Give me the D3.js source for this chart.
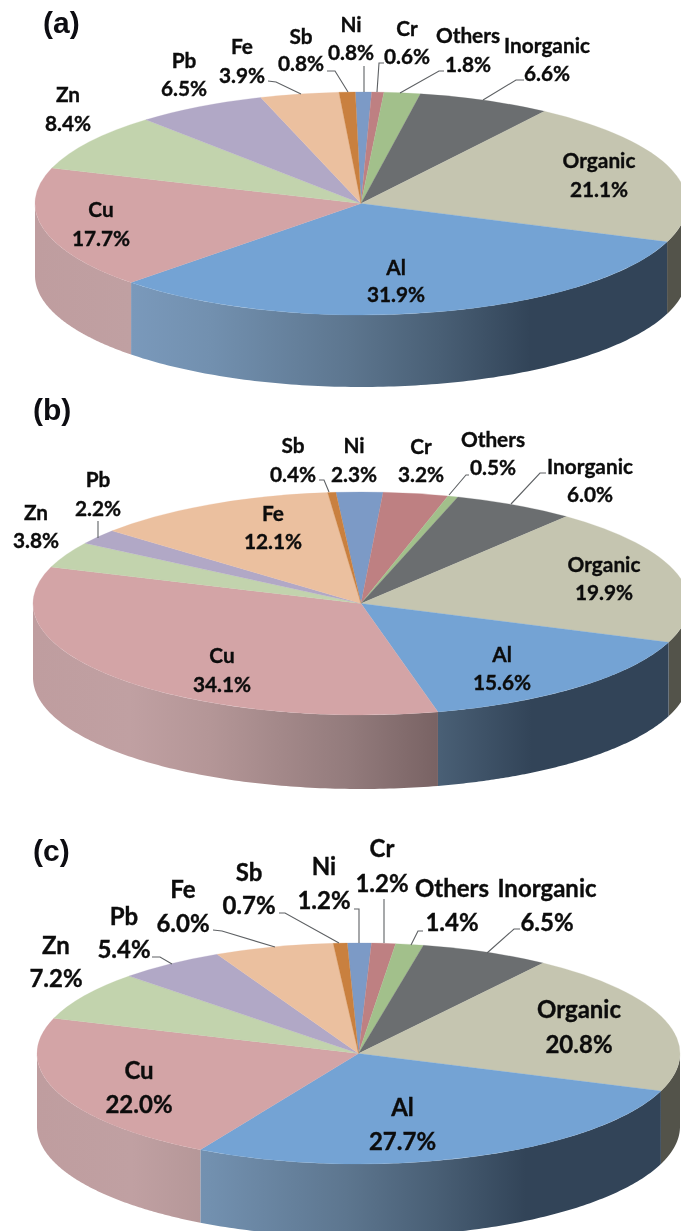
<!DOCTYPE html>
<html>
<head>
<meta charset="utf-8">
<script src="https://cdn.jsdelivr.net/npm/d3@7"></script>
<style>
html,body{margin:0;padding:0;background:#fff;overflow:hidden}
svg{display:block;filter:blur(0.45px)}
</style>
</head>
<body>
<svg id="chart" width="681" height="1231"></svg>
<script>
// ---- data ----
const categories = ["Ni","Cr","Others","Inorganic","Organic","Al","Cu","Zn","Pb","Fe","Sb"];
const valuesA = [0.8,0.6,1.8,6.6,21.1,31.9,17.7,8.4,6.5,3.9,0.8];
const valuesB = [2.3,3.2,0.5,6.0,19.9,15.6,34.1,3.8,2.2,12.1,0.4];
const valuesC = [1.2,1.2,1.4,6.5,20.8,27.7,22.0,7.2,5.4,6.0,0.7];
const colours = ["#7c9ac6","#be8082","#a2c08b","#6b6e70","#c5c5b0","#74a3d4","#d3a4a6","#c2d3ad","#b1a8c6","#ebc09f","#c9803f"];

// ---- layout of each pie ----
const geomA = {cx:361, cy:203.5, rx:326, ry:111.5, depth:72, start:-1};
const geomB = {cx:361, cy:603.5, rx:328, ry:111.5, depth:74, start:-4.4};
const geomC = {cx:358.5, cy:1053.5, rx:321.5, ry:110.5, depth:73, start:-2};

// side shading: fraction of pie width -> brightness factor, saturation factor
const shadeT = [0,.147,.27,.48,.62,.76,1];
const shadeK = [.93,.94,.88,.72,.58,.42,.42];
const shadeS = [.78,.72,.72,.72,.8,.95,.95];

// label placement [x, name baseline, value baseline]
const labelsA = {
  Ni:[351,32,60],Cr:[407,36,64],Others:[468,43,72],Inorganic:[547,53,81],Organic:[599,168,197],
  Al:[396,275,302],Cu:[101,217,246],Zn:[68,102,131],Pb:[184,68,96],Fe:[242,54,83],Sb:[301,44,71]};
const labelsB = {
  Ni:[354,453,482],Cr:[421,454,482],Others:[493,447,475],Inorganic:[590,474,502],Organic:[604,572,600],
  Al:[502,662,690],Cu:[222,663,692],Zn:[36,520,548],Pb:[98,487,516],Fe:[273,521,549],Sb:[293,453,482]};
const labelsC = {
  Ni:[324,875,909],Cr:[382,857,892],Others:[452,897,931],Inorganic:[547,897,931],Organic:[579,1018,1053],
  Al:[402.5,1116,1150],Cu:[139,1079,1113],Zn:[56,954,987],Pb:[124,925,958],Fe:[183,898,932],Sb:[249,881,914]};

const leadersA = [
  [[268,81],[276,82],[301,94]],[[327,71],[335,71],[348,92]],[[364,66],[364,92]],
  [[384,63],[379,63],[377,92]],[[444,71],[439,71],[400,93]],[[524,80],[516,80],[483,100]]];
const leadersB = [
  [[98,521],[98,538]],[[319,480],[324,480],[329,492]],[[469,475],[466,475],[449,495]],
  [[546,473],[540,473],[511,504]]];
const leadersC = [
  [[152,957],[160,957],[172,964]],[[213,930],[222,931],[275,947]],[[279,913],[285,913],[339,943]],
  [[354,909],[359,909],[359,943]],[[384,899],[384,943]],[[423,931],[418,931],[411,945]],
  [[520,929],[514,929],[487,953]]];

const panels = [
  {id:"a",title:"(a)",tx:43,ty:33,values:valuesA,geom:geomA,labels:labelsA,leaders:leadersA,font:20.8},
  {id:"b",title:"(b)",tx:33,ty:420,values:valuesB,geom:geomB,labels:labelsB,leaders:leadersB,font:20.8},
  {id:"c",title:"(c)",tx:33,ty:861,values:valuesC,geom:geomC,labels:labelsC,leaders:leadersC,font:24}
];

const svg = d3.select("#chart");
const defs = svg.append("defs");
const TAU = 2*Math.PI;

panels.forEach(p => {
  const g = p.geom;
  const sx = d3.scaleLinear().domain([-1,1]).range([g.cx-g.rx,g.cx+g.rx]);
  const sy = d3.scaleLinear().domain([-1,1]).range([g.cy-g.ry,g.cy+g.ry]);
  const start = g.start*Math.PI/180;
  const pie = d3.pie().sort(null).value(d=>d.value).startAngle(start).endAngle(start+TAU);
  const arcs = pie(categories.map((c,i)=>({name:c,value:p.values[i],colour:colours[i]})));
  const root = svg.append("g").attr("class","pie-"+p.id);

  // gradients for the side wall
  arcs.forEach((a,i) => {
    const grad = defs.append("linearGradient").attr("id",`side-${p.id}-${i}`)
      .attr("gradientUnits","userSpaceOnUse")
      .attr("x1",sx(-1)).attr("x2",sx(1)).attr("y1",0).attr("y2",0);
    const base = d3.rgb(a.data.colour);
    shadeT.forEach((t,j) => {
      const k = shadeK[j];
      const c = d3.hsl(d3.rgb(base.r*k,base.g*k,base.b*k));
      c.s *= shadeS[j];
      grad.append("stop").attr("offset",t).attr("stop-color",d3.rgb(c).formatHex());
    });
  });

  // side wall: only the part of each slice facing the viewer
  const line = d3.line().x(d=>d[0]).y(d=>d[1]);
  arcs.forEach((a,i) => {
    const lo = Math.max(a.startAngle,Math.PI/2), hi = Math.min(a.endAngle,1.5*Math.PI);
    if (hi <= lo) return;
    const steps = d3.range(0,121).map(s => lo+(hi-lo)*s/120);
    const top = steps.map(t => [sx(Math.sin(t)),sy(-Math.cos(t))]);
    const bottom = steps.slice().reverse().map(t => [sx(Math.sin(t)),sy(-Math.cos(t))+g.depth]);
    root.append("path").attr("d",line(top.concat(bottom))+"Z")
      .attr("fill",`url(#side-${p.id}-${i})`);
  });

  // top face
  const arc = d3.arc().innerRadius(0).outerRadius(g.rx);
  root.append("g").attr("transform",`translate(${g.cx},${g.cy}) scale(1,${g.ry/g.rx})`)
    .selectAll("path").data(arcs).join("path")
    .attr("d",arc).attr("fill",d=>d.data.colour)
    .attr("stroke",d=>d.data.colour).attr("stroke-width",0.4);

  // leader lines
  const ll = d3.line();
  root.append("g").selectAll("path").data(p.leaders).join("path")
    .attr("d",d=>ll(d)).attr("fill","none").attr("stroke","#5e6164").attr("stroke-width",1.1);

  // labels
  const txt = root.append("g").attr("font-family","Lato, 'Open Sans', sans-serif")
    .attr("font-weight",700).attr("font-size",p.font).attr("fill","#0c0c0c")
    .attr("stroke","#0c0c0c").attr("stroke-width",0.35).attr("text-anchor","middle");
  arcs.forEach(a => {
    const pos = p.labels[a.data.name];
    txt.append("text").attr("x",pos[0]).attr("y",pos[1]).text(a.data.name);
    txt.append("text").attr("x",pos[0]).attr("y",pos[2]).text(a.data.value.toFixed(1)+"%");
  });

  root.append("text").attr("x",p.tx).attr("y",p.ty)
    .attr("font-family","'Liberation Sans', Arial, sans-serif").attr("font-weight",700)
    .attr("font-size",30).attr("fill","#0d0d12").text(p.title);
});
</script>
</body>
</html>
